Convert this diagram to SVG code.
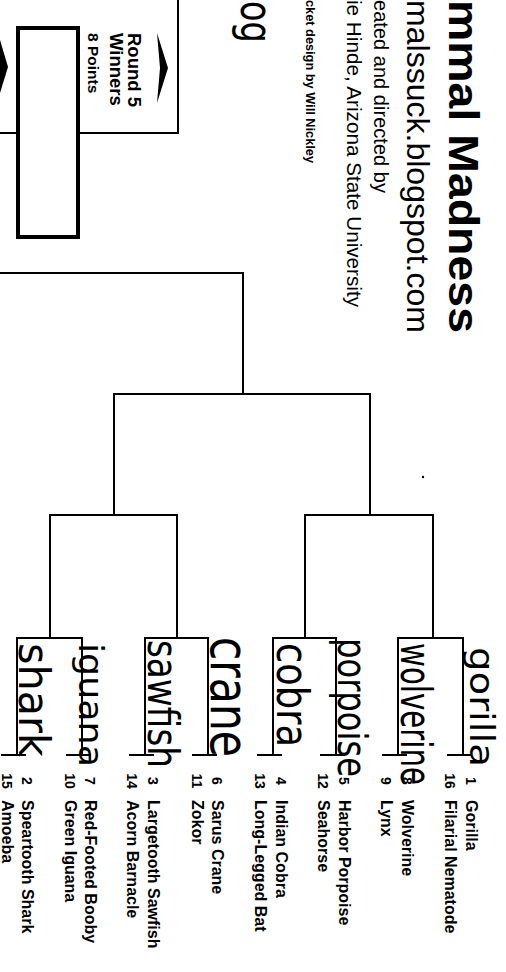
<svg xmlns="http://www.w3.org/2000/svg" width="506" height="972" viewBox="0 0 506 972">
<style>
.ln{stroke:#000;stroke-width:2;fill:none;stroke-linecap:square}
.seed{font-family:"Liberation Sans",Arial,sans-serif;font-weight:bold;font-size:16px;fill:#000}
.num{font-family:"Liberation Sans",Arial,sans-serif;font-weight:bold;font-size:14px;fill:#000;text-anchor:middle}
.hand{font-family:"DejaVu Sans",sans-serif;fill:#000}
.t1{font-family:"Liberation Sans",Arial,sans-serif;font-weight:bold;font-size:43px;fill:#000}
.t2{font-family:"Liberation Sans",Arial,sans-serif;font-size:32px;fill:#000}
.t3{font-family:"Liberation Sans",Arial,sans-serif;font-size:20.5px;fill:#000}
.t4{font-family:"Liberation Sans",Arial,sans-serif;font-weight:bold;font-size:12.5px;fill:#000}
.rw{font-family:"Liberation Sans",Arial,sans-serif;font-weight:bold;font-size:18.5px;fill:#000}
.rp{font-family:"Liberation Sans",Arial,sans-serif;font-weight:bold;font-size:15.5px;fill:#000}
</style>
<rect width="506" height="972" fill="#fff"/>

<g id="title">
<text class="t1" transform="translate(449,0) rotate(90)" textLength="333" lengthAdjust="spacingAndGlyphs">mmal Madness</text>
<text class="t2" transform="translate(407,0) rotate(90)" textLength="333" lengthAdjust="spacingAndGlyphs">malssuck.blogspot.com</text>
<text class="t3" transform="translate(374,0) rotate(90)" textLength="193" lengthAdjust="spacingAndGlyphs">eated and directed by</text>
<text class="t3" transform="translate(347,0) rotate(90)" textLength="307" lengthAdjust="spacingAndGlyphs">ie Hinde, Arizona State University</text>
<text class="t4" transform="translate(306,0) rotate(90)" textLength="163" lengthAdjust="spacingAndGlyphs">cket design by Will Nickley</text>
</g>

<g id="round5">
<path class="ln" d="M178,0V133H0"/>
<polygon points="157,33 168,68 157,103 160,68" fill="#000"/>
<polygon points="0,40 8,67 0,93" fill="#000"/>
<text class="rw" transform="translate(128,33) rotate(90)">Round 5</text>
<text class="rw" transform="translate(110,33) rotate(90)">Winners</text>
<text class="rp" transform="translate(88,33) rotate(90)">8 Points</text>
<rect x="18" y="28" width="60" height="209" fill="#fff" stroke="#000" stroke-width="4"/>
</g>

<g id="top-hand">
<text class="hand" font-size="44" transform="translate(241,1) rotate(90)" textLength="42" lengthAdjust="spacingAndGlyphs">og</text>
</g>

<g id="connectors" class="ln">
<path d="M17,755V638H82V755"/>
<path d="M145,755V638H208V755"/>
<path d="M273,755V638H336V755"/>
<path d="M398,755V638H463V755"/>
<path d="M50,638V515H177V638"/>
<path d="M305,638V515H433V638"/>
<path d="M114,515V394H370V515"/>
<path d="M243,394V273H0"/>
<path d="M2,755H25 M67,755H90 M130,755H153 M193,755H216 M258,755H281 M321,755H344 M383,755H406 M448,755H471"/>
</g>
<circle cx="423" cy="477" r="1.2" fill="#000"/>

<g id="winners">
<text class="hand" font-size="34" transform="translate(470,647) rotate(90)" textLength="120" lengthAdjust="spacingAndGlyphs">gorilla</text>
<text class="hand" font-size="42" transform="translate(401,643) rotate(90)" textLength="142" lengthAdjust="spacingAndGlyphs">wolverine</text>
<text class="hand" font-size="40" transform="translate(338,638) rotate(90)" textLength="139" lengthAdjust="spacingAndGlyphs">porpoise</text>
<text class="hand" font-size="44" transform="translate(277,643) rotate(90)" textLength="104" lengthAdjust="spacingAndGlyphs">cobra</text>
<text class="hand" font-size="54" transform="translate(211,637) rotate(90)" textLength="120" lengthAdjust="spacingAndGlyphs">crane</text>
<text class="hand" font-size="42" transform="translate(148,640) rotate(90)" textLength="128" lengthAdjust="spacingAndGlyphs">sawfish</text>
<text class="hand" font-size="33" transform="translate(79,643) rotate(90)" textLength="124" lengthAdjust="spacingAndGlyphs">iguana</text>
<text class="hand" font-size="42" transform="translate(19,643) rotate(90)" textLength="114" lengthAdjust="spacingAndGlyphs">shark</text>
</g>

<g id="seeds">
<g id="s1"><text class="num" transform="translate(466,781) rotate(90)">1</text><text class="seed" transform="translate(466,800) rotate(90)">Gorilla</text></g>
<g id="s16"><text class="num" transform="translate(445,781) rotate(90)">16</text><text class="seed" transform="translate(445,800) rotate(90)">Filarial Nematode</text></g>
<g id="s8"><text class="num" transform="translate(402,781) rotate(90)">8</text><text class="seed" transform="translate(402,800) rotate(90)">Wolverine</text></g>
<g id="s9"><text class="num" transform="translate(381,781) rotate(90)">9</text><text class="seed" transform="translate(381,800) rotate(90)">Lynx</text></g>
<g id="s5"><text class="num" transform="translate(339,781) rotate(90)">5</text><text class="seed" transform="translate(339,800) rotate(90)">Harbor Porpoise</text></g>
<g id="s12"><text class="num" transform="translate(318,781) rotate(90)">12</text><text class="seed" transform="translate(318,800) rotate(90)">Seahorse</text></g>
<g id="s4"><text class="num" transform="translate(276,781) rotate(90)">4</text><text class="seed" transform="translate(276,800) rotate(90)">Indian Cobra</text></g>
<g id="s13"><text class="num" transform="translate(255,781) rotate(90)">13</text><text class="seed" transform="translate(255,800) rotate(90)">Long-Legged Bat</text></g>
<g id="s6"><text class="num" transform="translate(212,781) rotate(90)">6</text><text class="seed" transform="translate(212,800) rotate(90)">Sarus Crane</text></g>
<g id="s11"><text class="num" transform="translate(192,781) rotate(90)">11</text><text class="seed" transform="translate(192,800) rotate(90)">Zokor</text></g>
<g id="s3"><text class="num" transform="translate(148,781) rotate(90)">3</text><text class="seed" transform="translate(148,800) rotate(90)">Largetooth Sawfish</text></g>
<g id="s14"><text class="num" transform="translate(127,781) rotate(90)">14</text><text class="seed" transform="translate(127,800) rotate(90)">Acorn Barnacle</text></g>
<g id="s7"><text class="num" transform="translate(85,781) rotate(90)">7</text><text class="seed" transform="translate(85,800) rotate(90)">Red-Footed Booby</text></g>
<g id="s10"><text class="num" transform="translate(65,781) rotate(90)">10</text><text class="seed" transform="translate(65,800) rotate(90)">Green Iguana</text></g>
<g id="s2"><text class="num" transform="translate(22,781) rotate(90)">2</text><text class="seed" transform="translate(22,800) rotate(90)">Speartooth Shark</text></g>
<g id="s15"><text class="num" transform="translate(2,781) rotate(90)">15</text><text class="seed" transform="translate(2,800) rotate(90)">Amoeba</text></g>
</g>
</svg>
